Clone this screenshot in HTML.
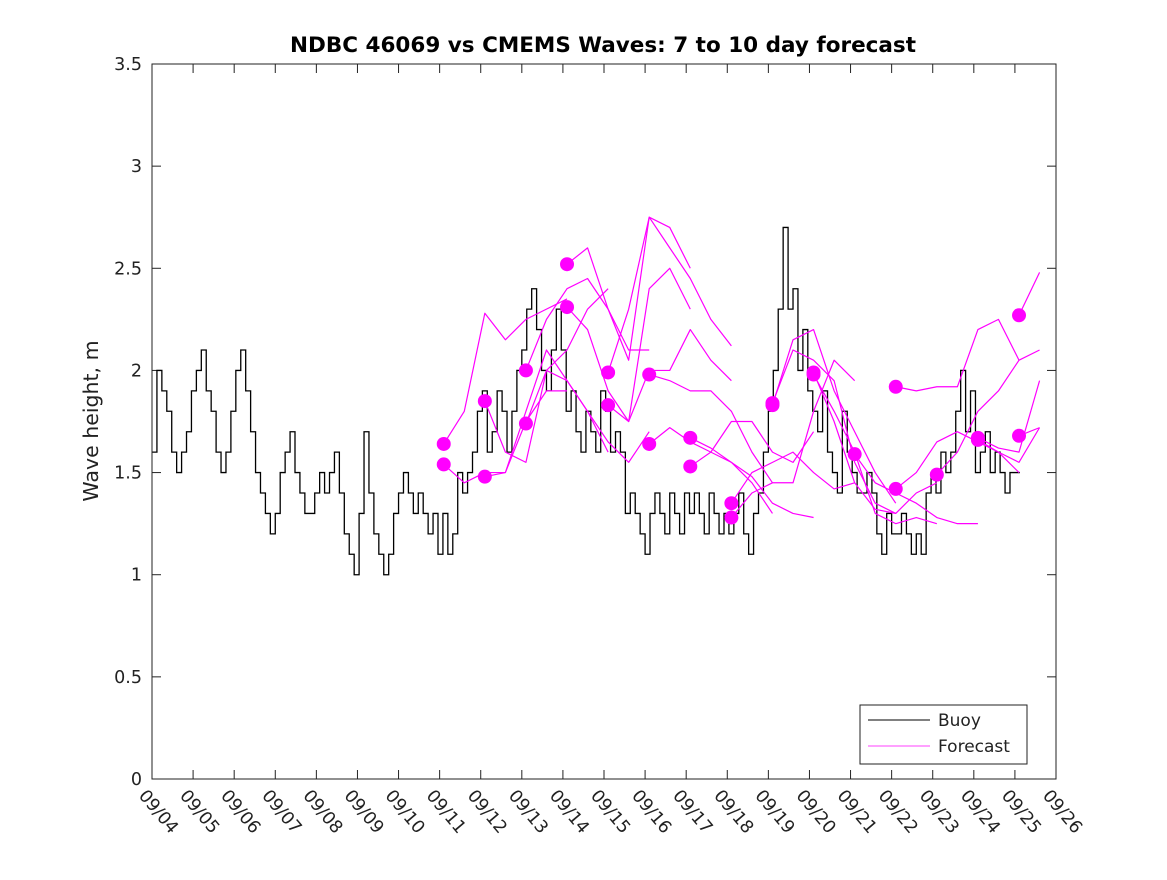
<!DOCTYPE html>
<html><head><meta charset="utf-8"><style>
body{margin:0;background:#fff}
svg{font-family:"DejaVu Sans","Liberation Sans",sans-serif}
</style></head><body>
<svg id="chart" width="1167" height="875" xmlns="http://www.w3.org/2000/svg">
<rect width="1167" height="875" fill="#fff"/>
<text x="603" y="52" text-anchor="middle" font-size="21.5" font-weight="bold" fill="#000">NDBC 46069 vs CMEMS Waves: 7 to 10 day forecast</text>
<text transform="translate(98,421) rotate(-90)" text-anchor="middle" font-size="20.5" fill="#222">Wave height, m</text>
<g id="axes"></g>
<g id="series"></g>
<rect x="152" y="64" width="904" height="715" fill="none" stroke="#222" stroke-width="1"/>
<g>
<rect x="860" y="705" width="167" height="59" fill="#fff" stroke="#222" stroke-width="1"/>
<line x1="868" y1="720" x2="930" y2="720" stroke="#000" stroke-width="1"/>
<text x="938" y="726" font-size="17" fill="#222">Buoy</text>
<line x1="868" y1="746" x2="930" y2="746" stroke="#f0f" stroke-width="0.8"/>
<text x="938" y="752" font-size="17" fill="#222">Forecast</text>
</g>
</svg>
<script>
const xTickLabels=["09/04","09/05","09/06","09/07","09/08","09/09","09/10","09/11","09/12","09/13","09/14","09/15","09/16","09/17","09/18","09/19","09/20","09/21","09/22","09/23","09/24","09/25","09/26"];
const yTicks=[0,0.5,1,1.5,2,2.5,3,3.5];
const yTickLabels=["0","0.5","1","1.5","2","2.5","3","3.5"];
const buoyStartDay=0;
const buoyStepDays=0.12;
const buoyValues=[1.6,2.0,1.9,1.8,1.6,1.5,1.6,1.7,1.9,2.0,2.1,1.9,1.8,1.6,1.5,1.6,1.8,2.0,2.1,1.9,1.7,1.5,1.4,1.3,1.2,1.3,1.5,1.6,1.7,1.5,1.4,1.3,1.3,1.4,1.5,1.4,1.5,1.6,1.4,1.2,1.1,1.0,1.3,1.7,1.4,1.2,1.1,1.0,1.1,1.3,1.4,1.5,1.4,1.3,1.4,1.3,1.2,1.3,1.1,1.3,1.1,1.2,1.5,1.4,1.5,1.6,1.8,1.9,1.6,1.7,1.9,1.8,1.6,1.8,2.0,2.1,2.3,2.4,2.2,2.0,1.9,2.1,2.3,2.1,1.8,1.9,1.7,1.6,1.8,1.7,1.6,1.9,1.8,1.6,1.7,1.6,1.3,1.4,1.3,1.2,1.1,1.3,1.4,1.3,1.2,1.4,1.3,1.2,1.4,1.3,1.4,1.3,1.2,1.4,1.3,1.2,1.3,1.2,1.3,1.4,1.2,1.1,1.3,1.4,1.6,1.8,2.0,2.3,2.7,2.3,2.4,2.0,2.2,1.9,1.8,1.7,1.9,1.6,1.5,1.4,1.8,1.6,1.5,1.4,1.4,1.5,1.4,1.2,1.1,1.3,1.2,1.2,1.3,1.2,1.1,1.2,1.1,1.4,1.5,1.4,1.6,1.5,1.6,1.8,2.0,1.7,1.9,1.5,1.6,1.7,1.5,1.6,1.5,1.4,1.5,1.5];
const fcStartDays=[7.1,7.1,8.1,8.1,9.1,9.1,10.1,10.1,11.1,11.1,12.1,12.1,13.1,13.1,14.1,14.1,15.1,15.1,16.1,16.1,17.1,18.1,18.1,19.1,20.1,20.1,21.1,21.1];
const fcStepDays=0.5;
const fcValues=[
[1.64,1.8,2.28,2.15,2.25,2.3,2.35],
[1.54,1.45,1.5,1.5,1.75,1.9,1.9],
[1.85,1.6,1.55,2.0,2.1,2.3,2.4],
[1.48,1.5,1.8,2.1,1.95,1.8,1.6],
[2.0,2.25,2.4,2.45,2.3,2.1,2.1],
[1.74,2.0,1.95,1.8,1.65,1.55,1.7],
[2.52,2.6,2.3,2.05,2.75,2.7,2.5],
[2.31,2.2,1.9,1.75,2.4,2.5,2.3],
[1.99,2.3,2.75,2.6,2.45,2.25,2.12],
[1.83,1.75,2.0,2.0,2.2,2.05,1.95],
[1.98,1.95,1.9,1.9,1.8,1.6,1.45],
[1.64,1.72,1.65,1.6,1.55,1.45,1.3],
[1.67,1.62,1.55,1.48,1.35,1.3,1.28],
[1.53,1.6,1.75,1.75,1.6,1.55,1.7],
[1.35,1.5,1.55,1.6,1.5,1.42,1.45],
[1.28,1.4,1.45,1.45,1.8,2.05,1.95],
[1.84,2.1,2.05,1.95,1.55,1.35,1.3],
[1.83,2.15,2.2,1.9,1.7,1.5,1.35],
[1.98,1.8,1.6,1.3,1.25,1.28,1.25],
[1.99,1.75,1.45,1.32,1.3,1.4,1.45],
[1.59,1.45,1.4,1.35,1.28,1.25,1.25],
[1.92,1.9,1.92,1.92,2.2,2.25,2.05],
[1.42,1.5,1.65,1.7,1.65,1.6,1.5],
[1.49,1.6,1.8,1.9,2.05,2.1,1.85],
[1.66,1.6,1.55,1.72,1.9,2.25,2.55],
[1.67,1.62,1.6,1.95,2.1,2.35,2.5],
[2.27,2.48,2.52],
[1.68,1.72,1.55]
];
const NS="http://www.w3.org/2000/svg";
const X0=152,X1=1056,Y0=779,Y1=64,DMAX=22,VMAX=3.5;
function xs(d){return X0+(X1-X0)*d/DMAX;}
function ys(v){return Y0-(Y0-Y1)*v/VMAX;}
function mk(tag,attrs,parent){const e=document.createElementNS(NS,tag);for(const k in attrs)e.setAttribute(k,attrs[k]);parent.appendChild(e);return e;}
const axes=document.getElementById('axes'),series=document.getElementById('series');
yTicks.forEach((v,i)=>{
 const y=ys(v);
 const t1=mk('line',{x1:X0,y1:y,x2:X0+9,y2:y,stroke:'#222'},axes);
 
 
 const t2=mk('line',{x1:X1-9,y1:y,x2:X1,y2:y,stroke:'#222'},axes);
 
 
 const tx=mk('text',{x:X0-10,y:y+6,'text-anchor':'end','font-size':17.5,fill:'#222'},axes);
 tx.textContent=yTickLabels[i];
 
 
});
xTickLabels.forEach((lab,i)=>{
 const x=xs(i);
 const t1=mk('line',{x1:x,y1:Y0,x2:x,y2:Y0-9,stroke:'#222'},axes);
 
 
 const t2=mk('line',{x1:x,y1:Y1,x2:x,y2:Y1+9,stroke:'#222'},axes);
 
 
 const tx=mk('text',{transform:`translate(${x-14},${Y0+17}) rotate(50)`,'font-size':17.5,fill:'#222'},axes);
 tx.textContent=lab;
 
 
});
let d='';
buoyValues.forEach((v,i)=>{
 const x=xs(buoyStartDay+i*buoyStepDays),y=ys(v);
 if(i===0)d+=`M${x},${y}`;else d+=`H${x}V${y}`;
});
d+=`H${xs(buoyStartDay+buoyValues.length*buoyStepDays)}`;
const bp=mk('path',{d:d,fill:'none',stroke:'#000','stroke-width':1.3},series);


fcValues.forEach((arr,k)=>{
 const pts=[];
 arr.forEach((v,j)=>{const dd=fcStartDays[k]+j*fcStepDays;if(dd<=DMAX)pts.push(xs(dd)+','+ys(v));});
 const pl=mk('polyline',{points:pts.join(' '),fill:'none',stroke:'#f0f','stroke-width':1.2,'stroke-linejoin':'round'},series);
 
 
});
fcValues.forEach((arr,k)=>{
 const c=mk('circle',{cx:xs(fcStartDays[k]),cy:ys(arr[0]),r:7,fill:'#f0f'},series);
 
 
});
</script>
</body></html>
